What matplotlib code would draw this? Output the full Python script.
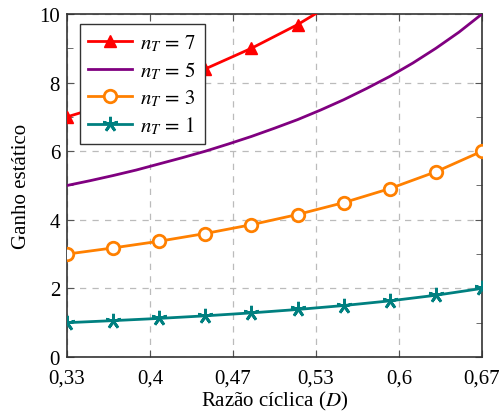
import numpy as np
import matplotlib
matplotlib.use("Agg")
import matplotlib.pyplot as plt
from matplotlib.ticker import FixedLocator, MultipleLocator

plt.rcParams['font.family'] = ['Liberation Serif', 'DejaVu Serif']
plt.rcParams['mathtext.fontset'] = 'stix'

# Duty cycle sample points (marker positions)
D_MARK = [1/3, 10/27, 11/27, 12/27, 13/27, 14/27, 15/27, 16/27, 17/27, 2/3]
# Finer points for the n_T = 5 curve (drawn without markers)
D_FINE = [1/3 + k/54 for k in range(19)]

GAIN_N1 = [1.00, 1.06, 1.125, 1.20, 1.286, 1.385, 1.50, 1.636, 1.80, 2.00]
GAIN_N3 = [3.00, 3.18, 3.375, 3.60, 3.857, 4.154, 4.50, 4.909, 5.40, 6.00]
GAIN_N7 = [7.00, 7.41, 7.875, 8.40, 9.00, 9.69, 10.50, 11.45, 12.60, 14.00]
GAIN_N5 = [5.00, 5.14, 5.29, 5.45, 5.63, 5.81, 6.00, 6.21, 6.43, 6.67,
           6.92, 7.20, 7.50, 7.83, 8.18, 8.57, 9.00, 9.47, 10.00]

X_TICKS = [1/3, 0.4, 7/15, 8/15, 0.6, 2/3]
X_TICK_LABELS = ["0,33", "0,4", "0,47", "0,53", "0,6", "0,67"]

fig = plt.figure(figsize=(5.02, 4.14), dpi=100)
ax = fig.add_axes([0.1335, 0.1353, 0.8267, 0.8285])

ax.plot(D_MARK, GAIN_N7, color="#ff0000", lw=2, marker="^", ms=9,
        mfc="#ff0000", mec="#ff0000", label=r"$n_T \,=\, 7$", zorder=3)
ax.plot(D_FINE, GAIN_N5, color="#800080", lw=2, label=r"$n_T \,=\, 5$", zorder=3)
ax.plot(D_MARK, GAIN_N3, color="#ff8000", lw=2, marker="o", ms=9,
        mfc="white", mec="#ff8000", mew=2, label=r"$n_T \,=\, 3$", zorder=3)
ax.plot(D_MARK, GAIN_N1, color="#008080", lw=2, marker=(5, 2, 0), ms=11,
        mec="#008080", mew=2, label=r"$n_T \,=\, 1$", zorder=3)

ax.set_xlim(1/3, 2/3)
ax.set_ylim(0, 10)
ax.xaxis.set_major_locator(FixedLocator(X_TICKS))
ax.set_xticklabels(X_TICK_LABELS)
ax.yaxis.set_major_locator(MultipleLocator(2))
ax.yaxis.set_minor_locator(MultipleLocator(1))
ax.tick_params(which="both", direction="in", top=True, right=True,
               labelsize=15, color="#555555")
ax.tick_params(which="major", length=5)
ax.tick_params(which="minor", length=4)
ax.tick_params(axis="x", pad=8)
ax.tick_params(axis="y", pad=5)

ax.grid(True, which="major", ls=(0, (5, 5)), color="#bbbbbb", lw=0.9)
ax.set_axisbelow(True)
for s in ax.spines.values():
    s.set_color("#333333")
    s.set_linewidth(1.2)

ax.set_xlabel(r"Razão cíclica ($D$)", fontsize=15, labelpad=1)
ax.set_ylabel("Ganho estático", fontsize=15, labelpad=6)

leg = ax.legend(loc="upper left", bbox_to_anchor=(0.031, 0.971), fontsize=15,
                borderaxespad=0, fancybox=False, framealpha=1,
                edgecolor="#333333", handlelength=2.1, handletextpad=0.4,
                borderpad=0.4, labelspacing=0.3)
leg.get_frame().set_linewidth(1.0)

fig.savefig("out.png", dpi=100)
